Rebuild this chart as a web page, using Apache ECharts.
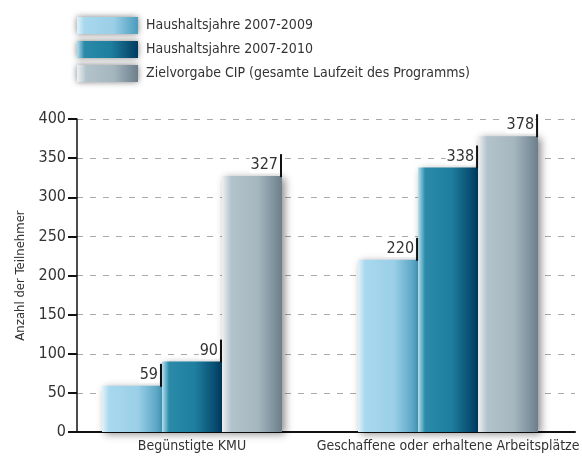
<!DOCTYPE html>
<html>
<head>
<meta charset="utf-8">
<script src="https://cdn.jsdelivr.net/npm/echarts@6/dist/echarts.min.js"></script>
<style>
html,body{margin:0;padding:0;background:#fff;}
#chart{width:582px;height:462px;}
</style>
</head>
<body>
<div id="chart"></div>
<script>
// Daten
const categories = ['Begünstigte KMU', 'Geschaffene oder erhaltene Arbeitsplätze']
const seriesNames = ['Haushaltsjahre 2007-2009', 'Haushaltsjahre 2007-2010', 'Zielvorgabe CIP (gesamte Laufzeit des Programms)']
const values2009 = [59, 220]
const values2010 = [90, 338]
const valuesCIP = [327, 378]
const yTicks = [0, 50, 100, 150, 200, 250, 300, 350, 400]

const FONT = '"Liberation Sans Narrow", "DejaVu Sans Condensed", sans-serif'
const BAR_W = 60

function grad(stops){
    return new echarts.graphic.LinearGradient(0, 0, 1, 0, stops.map(s => ({offset: s[0], color: s[1]})))
}
const colors = [
    grad([[0, '#e2f3fb'], [0.12, '#a8d8ee'], [0.6, '#9acfe7'], [1, '#4a9cbd']]),
    grad([[0, '#b5e0f0'], [0.12, '#2a8aa8'], [0.55, '#1f7fa0'], [1, '#003b60']]),
    grad([[0, '#eef1f3'], [0.15, '#b3c3cb'], [0.6, '#a6b6bf'], [1, '#6b7f8b']])
]
const allValues = [values2009, values2010, valuesCIP]

const chart = echarts.init(document.getElementById('chart'))

const barSeries = allValues.map((vals, i) => ({
    name: seriesNames[i],
    type: 'bar',
    xAxisIndex: 1,
    yAxisIndex: 1,
    data: vals,
    barWidth: BAR_W,
    barGap: '0%',
    itemStyle: {
        color: colors[i],
        shadowBlur: 8,
        shadowColor: 'rgba(0,0,0,0.45)',
        shadowOffsetX: 3,
        shadowOffsetY: 2
    },
    label: {
        show: true,
        position: ['100%', 0],
        align: 'right',
        verticalAlign: 'bottom',
        offset: [-3, -3],
        color: '#333',
        fontFamily: FONT,
        fontSize: 16,
        backgroundColor: '#fff',
        padding: [0, 1, 0, 1]
    },
    z: 2
}))

// kleine senkrechte Striche an der rechten Balkenkante
const tickSeries = {
    type: 'custom',
    xAxisIndex: 1,
    yAxisIndex: 1,
    silent: true,
    z: 5,
    data: allValues.flatMap((vals, i) => vals.map((v, c) => [c, v, i])),
    renderItem(params, api){
        const p = api.coord([api.value(0), api.value(1)])
        const x = p[0] + (api.value(2) - 1) * BAR_W + BAR_W / 2 - 1
        return {
            type: 'line',
            shape: {x1: x, y1: p[1] + 1, x2: x, y2: p[1] - 22},
            style: {stroke: '#111', lineWidth: 2}
        }
    }
}

const option = {
    animation: false,
    textStyle: {fontFamily: FONT},
    legend: {
        orient: 'vertical',
        left: 72,
        top: 12,
        itemWidth: 61,
        itemHeight: 17,
        itemGap: 7,
        icon: 'rect',
        data: seriesNames,
        itemStyle: {shadowBlur: 6, shadowColor: 'rgba(0,0,0,0.5)', shadowOffsetX: 0, shadowOffsetY: 0},
        textStyle: {fontFamily: FONT, fontSize: 14, color: '#333', padding: [0, 0, 0, 3]}
    },
    grid: [
        {left: 77, right: 7, top: 119, bottom: 30},
        {left: 64, right: 4, top: 119, bottom: 30}
    ],
    xAxis: [{
        type: 'category',
        gridIndex: 0,
        data: categories,
        axisLine: {lineStyle: {color: '#111', width: 2}},
        axisTick: {show: false},
        axisLabel: {show: false}
    }, {
        type: 'category',
        gridIndex: 1,
        data: categories,
        axisLine: {show: false},
        axisTick: {show: false},
        axisLabel: {color: '#333', fontFamily: FONT, fontSize: 14, margin: 7, interval: 0}
    }],
    yAxis: [{
        type: 'value',
        gridIndex: 0,
        min: yTicks[0],
        max: yTicks[yTicks.length - 1],
        interval: 50,
        name: 'Anzahl der Teilnehmer',
        nameLocation: 'middle',
        nameGap: 50,
        nameTextStyle: {color: '#333', fontFamily: FONT, fontSize: 13},
        axisLine: {show: true, lineStyle: {color: '#111', width: 1.5}},
        axisTick: {show: true, length: 9, lineStyle: {color: '#111', width: 2}},
        axisLabel: {color: '#333', fontFamily: FONT, fontSize: 16, margin: 11},
        splitLine: {lineStyle: {color: '#aaa', type: [6, 7], width: 1}}
    }, {
        type: 'value',
        gridIndex: 1,
        min: yTicks[0],
        max: yTicks[yTicks.length - 1],
        interval: 50,
        show: false,
        splitLine: {show: false}
    }],
    series: [...barSeries, tickSeries]
}

chart.setOption(option)
</script>
</body>
</html>
